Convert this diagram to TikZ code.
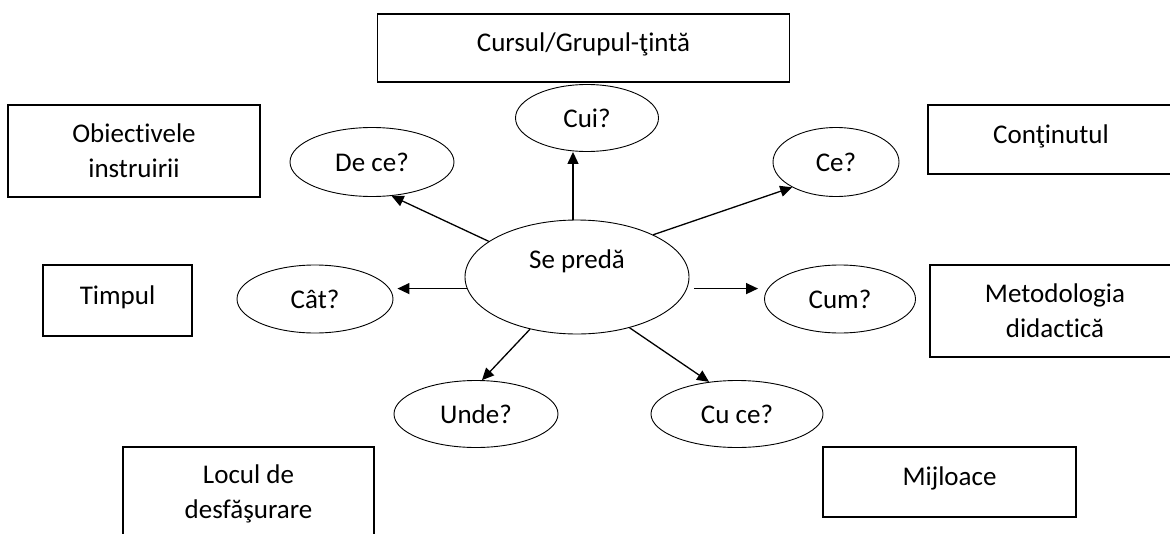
\documentclass[tikz,border=0pt]{standalone}
\usepackage{fontspec}
\setmainfont{Carlito}[Ligatures=NoCommon]
\usetikzlibrary{arrows.meta,shapes.geometric}

\begin{document}
\begin{tikzpicture}[x=1pt,y=-1pt,
    font=\fontsize{27}{35}\selectfont,
    box/.style={draw,line width=1.2pt,rectangle,inner sep=0pt,align=center},
    onebox/.style={box,text height=19pt,text depth=12pt},
    oval/.style={draw,line width=0.9pt,ellipse,inner sep=0pt},
    arr/.style={line width=1.3pt,-{Triangle[length=12pt,width=11pt]}}]
    \useasboundingbox (0,0) rectangle (1170,533);
    \clip (0,0) rectangle (1170,533);
    % the boxes round the edge
    \node[onebox,minimum width=412,minimum height=68] (grup) at (583.5,48) {Cursul/Grupul-ţintă};
    \node[box,minimum width=252,minimum height=92] (obiective) at (134,151) {Obiectivele\\instruirii};
    \node[onebox,minimum width=149,minimum height=71] (timp) at (117.5,300.5) {Timpul};
    \node[onebox,minimum width=246,minimum height=69] (continut) at (1051,139.5) {Conţinutul};
    \node[box,minimum width=250,minimum height=92] (metodologie) at (1055,311) {Metodologia\\didactică};
    \node[box,minimum width=251,minimum height=93] (loc) at (248.5,493.5) {Locul de\\desfăşurare};
    \node[onebox,minimum width=253,minimum height=70] (mijloace) at (949.5,482) {Mijloace};
    % the questions
    \node[oval,minimum width=224,minimum height=114,text height=19pt,text depth=36pt] (sp) at (577,277) {Se predă};
    \node[oval,minimum width=143,minimum height=67] (cui) at (587,118) {Cui?};
    \node[oval,minimum width=164,minimum height=69] (dece) at (372,162) {De ce?};
    \node[oval,minimum width=126,minimum height=69] (ce) at (836,162) {Ce?};
    \node[oval,minimum width=156,minimum height=68] (cat) at (315,299) {Cât?};
    \node[oval,minimum width=151,minimum height=68] (cum) at (840,299) {Cum?};
    \node[oval,minimum width=164,minimum height=67] (unde) at (476,414) {Unde?};
    \node[oval,minimum width=172,minimum height=67] (cuce) at (737,414) {Cu ce?};
    \draw[arr] (sp.94) -- (sp.94 |- cui.south);
    \draw[arr] (sp.158) -- (dece.-60);
    \draw[arr] (sp.29) -- (ce.-150);
    \draw[arr,shorten >=4pt] (sp.186) -- (sp.186 -| cat.east);
    \draw[arr,shorten <=7pt,shorten >=6pt] (sp.-6) -- (sp.-6 -| cum.west);
    \draw[arr] (sp.-132) -- (unde.80);
    \draw[arr] (sp.-44) -- (cuce.131);
  \end{tikzpicture}
\end{document}
